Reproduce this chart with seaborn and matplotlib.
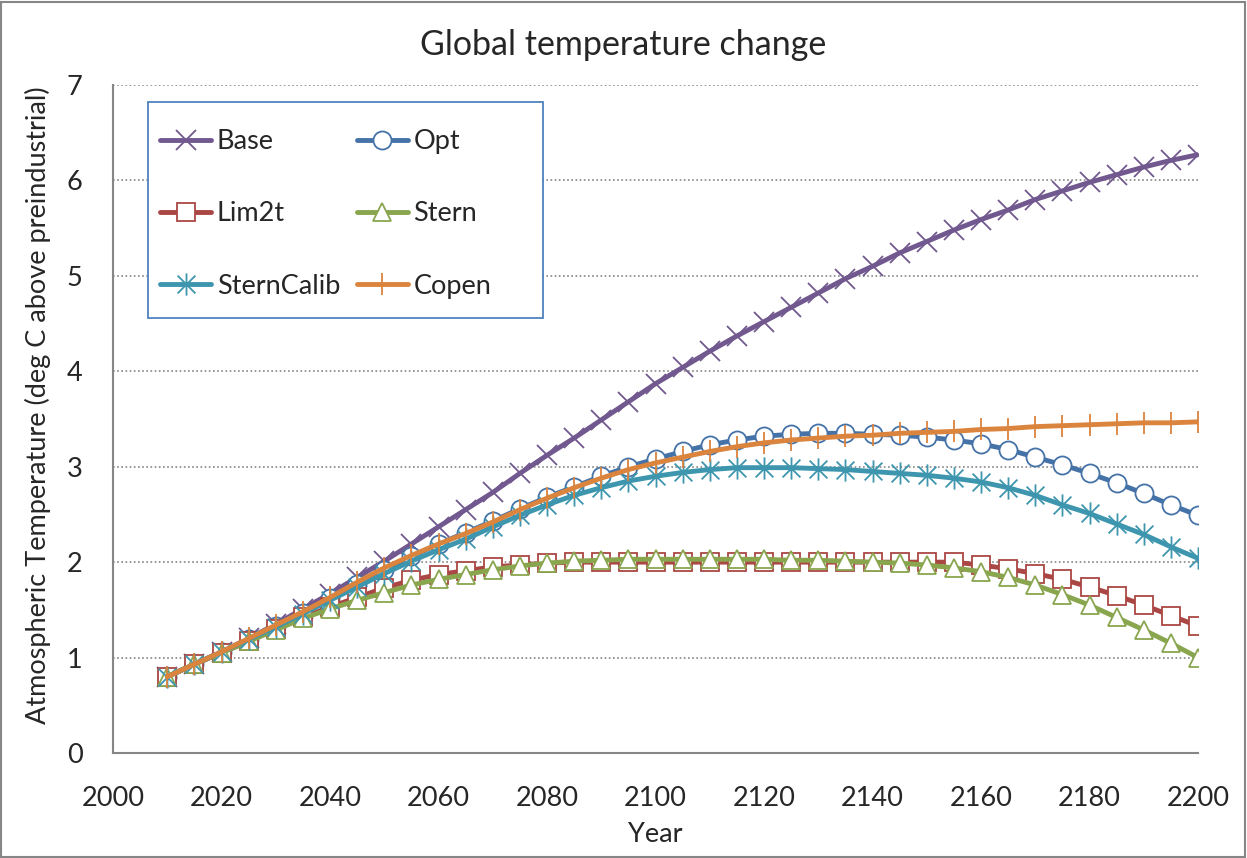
import numpy as np
import pandas as pd
import matplotlib
matplotlib.use("Agg")
import matplotlib.pyplot as plt
from matplotlib.patches import Rectangle
from matplotlib.path import Path
import seaborn as sns

#%%
years = list(range(2010, 2201, 5))

base = [0.80, 0.93, 1.06, 1.20, 1.35, 1.51, 1.67, 1.84, 2.01, 2.19,
        2.37, 2.55, 2.73, 2.93, 3.12, 3.30, 3.49, 3.68, 3.87, 4.04,
        4.21, 4.37, 4.52, 4.67, 4.82, 4.97, 5.10, 5.24, 5.36, 5.48,
        5.59, 5.69, 5.80, 5.89, 5.98, 6.06, 6.14, 6.21, 6.27]
opt = [0.80, 0.93, 1.06, 1.19, 1.33, 1.47, 1.62, 1.77, 1.92, 2.06,
       2.19, 2.31, 2.43, 2.56, 2.68, 2.79, 2.90, 3.00, 3.08, 3.16,
       3.23, 3.28, 3.32, 3.34, 3.35, 3.35, 3.34, 3.33, 3.31, 3.28,
       3.24, 3.18, 3.10, 3.02, 2.93, 2.83, 2.72, 2.60, 2.49]
lim2t = [0.80, 0.93, 1.05, 1.17, 1.30, 1.42, 1.53, 1.63, 1.73, 1.81,
         1.87, 1.91, 1.95, 1.97, 1.99, 2.00, 2.00, 2.00, 2.00, 2.00,
         2.00, 2.00, 2.00, 2.00, 2.00, 2.00, 2.00, 2.00, 2.00, 2.00,
         1.97, 1.93, 1.88, 1.82, 1.74, 1.65, 1.55, 1.44, 1.33]
stern = [0.80, 0.93, 1.05, 1.17, 1.29, 1.41, 1.51, 1.60, 1.68, 1.76,
         1.82, 1.87, 1.92, 1.96, 1.99, 2.01, 2.02, 2.03, 2.03, 2.03,
         2.03, 2.03, 2.03, 2.02, 2.02, 2.01, 2.00, 1.99, 1.97, 1.94,
         1.90, 1.84, 1.76, 1.66, 1.55, 1.42, 1.29, 1.15, 1.00]
stern_calib = [0.80, 0.93, 1.06, 1.19, 1.32, 1.46, 1.60, 1.74, 1.88, 2.01,
               2.13, 2.24, 2.37, 2.49, 2.60, 2.70, 2.78, 2.85, 2.90, 2.94,
               2.97, 2.99, 2.99, 2.99, 2.98, 2.97, 2.95, 2.93, 2.91, 2.88,
               2.84, 2.78, 2.70, 2.60, 2.51, 2.40, 2.29, 2.16, 2.04]
copen = [0.80, 0.93, 1.06, 1.20, 1.34, 1.48, 1.63, 1.79, 1.94, 2.07,
         2.19, 2.30, 2.42, 2.55, 2.67, 2.78, 2.88, 2.97, 3.04, 3.10,
         3.16, 3.21, 3.25, 3.28, 3.30, 3.32, 3.33, 3.35, 3.36, 3.37,
         3.39, 3.40, 3.42, 3.43, 3.44, 3.45, 3.46, 3.46, 3.47]

scenarios = ['Base', 'Opt', 'Lim2t', 'Stern', 'SternCalib', 'Copen']
series = [base, opt, lim2t, stern, stern_calib, copen]

#%%
# Excel's "star" marker: an X with a vertical bar through it
star = Path([(0, -1), (0, 1), (-0.8, -0.8), (0.8, 0.8), (-0.8, 0.8), (0.8, -0.8)],
            [Path.MOVETO, Path.LINETO] * 3)

colors = {'Base': '#71588F', 'Opt': '#4572A7', 'Lim2t': '#AA4643',
          'Stern': '#89A54E', 'SternCalib': '#3D96AE', 'Copen': '#DB843D'}
marker_map = {'Base': 'x', 'Opt': 'o', 'Lim2t': 's', 'Stern': '^',
              'SternCalib': star, 'Copen': '|'}
marker_size = {'Base': 15, 'Opt': 13, 'Lim2t': 13, 'Stern': 13,
               'SternCalib': 16, 'Copen': 16}

df = pd.concat([pd.DataFrame({'Year': years, 'Temp': vals, 'Scenario': name})
                for name, vals in zip(scenarios, series)])

#%%
sns.set_style('white')
plt.rcParams['font.family'] = ['Lato', 'DejaVu Sans']

fig = plt.figure(figsize=(12.47, 8.58), dpi=100)
ax = fig.add_axes([113 / 1247, 105 / 858, 1085 / 1247, 668 / 858])

sns.lineplot(data=df, x='Year', y='Temp', hue='Scenario', hue_order=scenarios,
             palette=colors, lw=3.5, legend=False, sort=False, ax=ax)

# seaborn won't mix filled and line-art markers, so set them on the lines
for line, name in zip(ax.lines, scenarios):
    line.set_marker(marker_map[name])
    line.set_markersize(marker_size[name])
    line.set_markeredgecolor(colors[name])
    line.set_markerfacecolor('white')
    line.set_markeredgewidth(1.3)
    line.set_solid_capstyle('round')

ax.set_xlim(2000, 2200)
ax.set_ylim(0, 7)
ax.set_xticks(range(2000, 2201, 20))
ax.set_yticks(range(0, 8))
ax.set_xlabel('')
ax.set_ylabel('')
ax.tick_params(axis='both', length=0, labelsize=19.5)
ax.tick_params(axis='x', pad=24)
ax.tick_params(axis='y', pad=22)

ax.yaxis.grid(True, color='#868686', linestyle=(0, (1, 1.5)), linewidth=1.2)
ax.xaxis.grid(False)
for side in ['top', 'right']:
    ax.spines[side].set_visible(False)
for side in ['left', 'bottom']:
    ax.spines[side].set_color('#868686')
    ax.spines[side].set_linewidth(1.5)

# legend box drawn by hand (Excel leaves extra room on the right)
ax.add_patch(Rectangle((35 / 1085, 435 / 668), 395 / 1085, 216 / 668,
                       transform=ax.transAxes, facecolor='white',
                       edgecolor='#4F81BD', linewidth=1.3, zorder=4))

# legend fills column first, so reorder to get the row layout
order = ['Base', 'Lim2t', 'SternCalib', 'Opt', 'Stern', 'Copen']
handles = [ax.lines[scenarios.index(n)] for n in order]
leg = ax.legend(handles, order, ncol=2, loc='upper left',
                bbox_to_anchor=(47 / 1085, 624 / 668), borderaxespad=0,
                fontsize=19.5, frameon=False, handlelength=1.9,
                handletextpad=0.2, columnspacing=0.6, labelspacing=1.75,
                borderpad=0, numpoints=1)
leg.set_zorder(5)

fig.text(0.5, 1 - 45 / 858, 'Global temperature change', ha='center',
         va='center', fontsize=24.5)
fig.text(655 / 1247, 1 - 835 / 858, 'Year', ha='center', va='center',
         fontsize=19.5)
fig.text(38 / 1247, 1 - 405 / 858,
         'Atmospheric Temperature (deg C above preindustrial)',
         rotation=90, ha='center', va='center', fontsize=19.5)

fig.patches.append(Rectangle((0.001, 0.001), 0.997, 0.997,
                             transform=fig.transFigure, fill=False,
                             edgecolor='#868686', linewidth=1.5))

fig.savefig('out.png', dpi=100)
